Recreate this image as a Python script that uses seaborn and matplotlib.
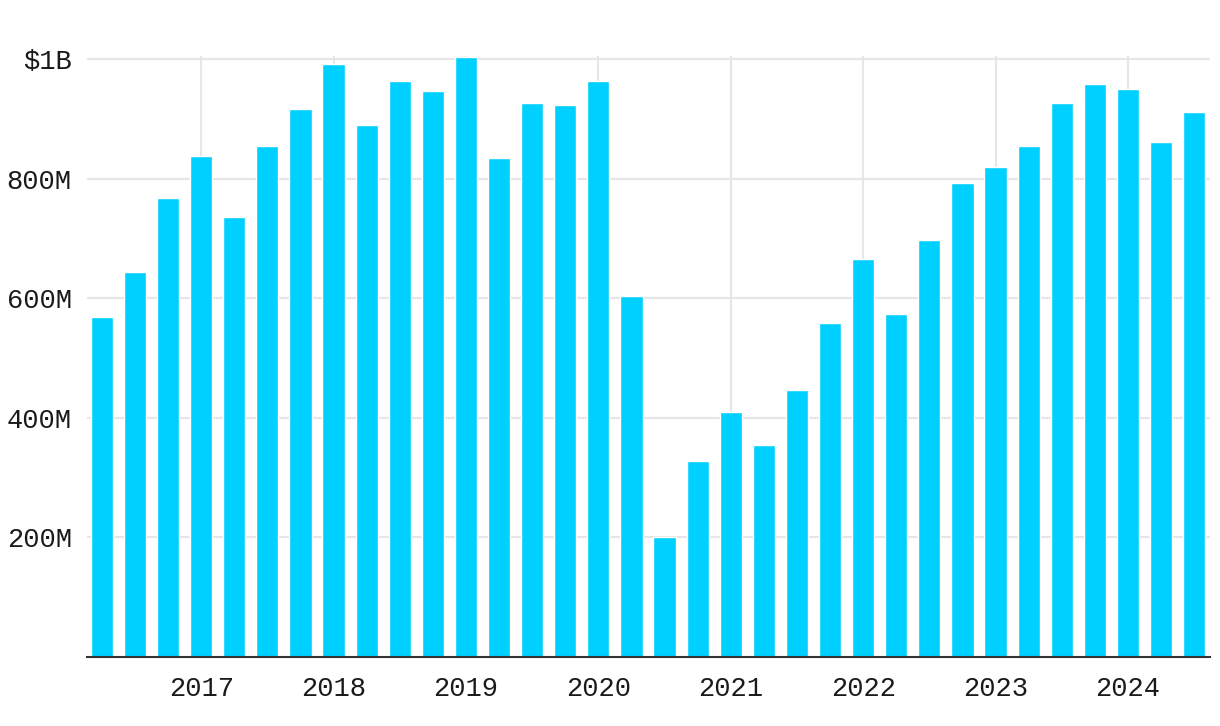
import matplotlib
matplotlib.use("Agg")
import matplotlib.pyplot as plt
import seaborn as sns
import pandas as pd

quarters = ["2016Q2", "2016Q3", "2016Q4",
            "2017Q1", "2017Q2", "2017Q3", "2017Q4",
            "2018Q1", "2018Q2", "2018Q3", "2018Q4",
            "2019Q1", "2019Q2", "2019Q3", "2019Q4",
            "2020Q1", "2020Q2", "2020Q3", "2020Q4",
            "2021Q1", "2021Q2", "2021Q3", "2021Q4",
            "2022Q1", "2022Q2", "2022Q3", "2022Q4",
            "2023Q1", "2023Q2", "2023Q3", "2023Q4",
            "2024Q1", "2024Q2", "2024Q3"]
values_m = [569, 643, 767,
            837, 735, 854, 917,
            991, 889, 963, 946,
            1004, 834, 926, 923,
            963, 603, 201, 327,
            409, 355, 446, 558,
            665, 574, 698, 792,
            820, 854, 926, 959,
            949, 861, 911]
year_labels = ["2017", "2018", "2019", "2020", "2021", "2022", "2023", "2024"]
y_ticks = [200, 400, 600, 800, 1000]
y_tick_labels = ["200M", "400M", "600M", "800M", "$1B"]

df = pd.DataFrame({"quarter": quarters, "value": values_m})

sns.set_theme(style="white")
plt.rcParams["font.family"] = ["Liberation Mono", "DejaVu Sans Mono"]

fig = plt.figure(figsize=(12.2, 7.26), dpi=100)
ax = fig.add_axes([87 / 1220, 1 - 657 / 726, (1210 - 87) / 1220, (657 - 56) / 726])

sns.barplot(data=df, x="quarter", y="value", order=quarters, color="#00D0FF",
            saturation=1, width=0.67, ax=ax, zorder=3)

year_pos = [quarters.index(y + "Q1") for y in year_labels]
ax.set_xticks(year_pos)
ax.set_xticklabels(year_labels, fontsize=19.5, color="#1a1a1a")
ax.set_yticks(y_ticks)
ax.set_yticklabels(y_tick_labels, fontsize=19.5, color="#1a1a1a")
ax.set_xlim(-0.45, len(quarters) - 0.52)
ax.set_ylim(0, 1005)

ax.grid(True, axis="both", color="#E6E6E6", linewidth=1.5, zorder=0)
ax.set_axisbelow(True)
ax.tick_params(axis="both", length=0)
ax.tick_params(axis="y", pad=11)
ax.tick_params(axis="x", pad=14)
ax.set_xlabel("")
ax.set_ylabel("")
for s in ["top", "right", "left"]:
    ax.spines[s].set_visible(False)
ax.spines["bottom"].set_color("#333333")
ax.spines["bottom"].set_linewidth(1.5)
ax.spines["bottom"].set_zorder(5)

fig.savefig("out.png", dpi=100, facecolor="white")
